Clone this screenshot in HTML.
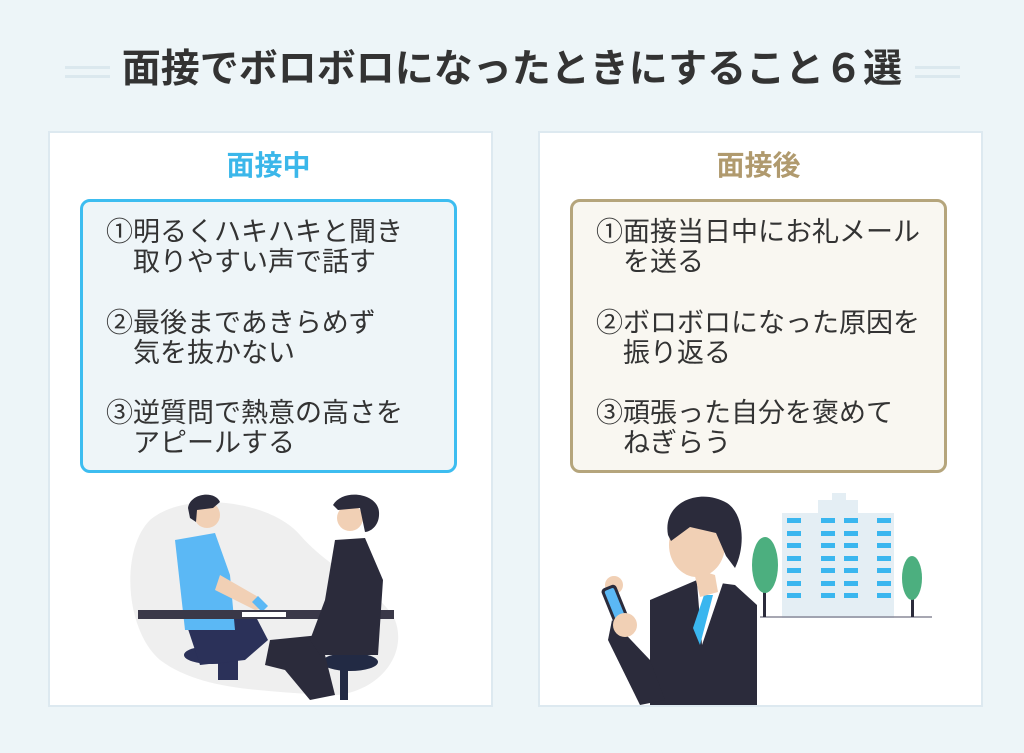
<!DOCTYPE html>
<html><head><meta charset="utf-8"><style>
body{margin:0;width:1024px;height:753px;background:#edf5f8;position:relative;overflow:hidden;font-family:"Liberation Sans","Noto Sans CJK JP",sans-serif;}
.a{position:absolute}
.title{left:0;width:1024px;top:45px;text-align:center;font-size:39px;font-weight:bold;color:#333;line-height:50px;}
.panel{background:#fff;border:2px solid #dde9f0;top:131px;width:441px;height:572px}
.h{font-size:28px;font-weight:bold;width:441px;text-align:center;top:149px;line-height:34px}
.box{border-radius:10px;top:199px;width:371px;height:268px;border:3px solid}
.t{font-size:27px;line-height:30px;color:#333;white-space:pre}
.dl{height:3px;background:#dbe8ee}
</style></head><body>
<div class="a dl" style="left:65px;top:66px;width:45px"></div>
<div class="a dl" style="left:65px;top:75px;width:45px"></div>
<div class="a dl" style="left:915px;top:66px;width:45px"></div>
<div class="a dl" style="left:915px;top:75px;width:45px"></div>
<div class="a title">面接でボロボロになったときにすること６選</div>

<div class="a panel" style="left:48px"></div>
<div class="a panel" style="left:538px"></div>
<div class="a h" style="left:48px;color:#3bb7ea">面接中</div>
<div class="a h" style="left:538px;color:#b09a6e">面接後</div>
<div class="a box" style="left:80px;border-color:#3dbdf0;background:#eef5f8"></div>
<div class="a box" style="left:570px;border-color:#b5a57c;background:#f9f7f1"></div>

<div class="a t" style="left:106px;top:217px">①明るくハキハキと聞き
　取りやすい声で話す</div>
<div class="a t" style="left:106px;top:308px">②最後まであきらめず
　気を抜かない</div>
<div class="a t" style="left:106px;top:398px">③逆質問で熱意の高さを
　アピールする</div>
<div class="a t" style="left:596px;top:217px">①面接当日中にお礼メール
　を送る</div>
<div class="a t" style="left:596px;top:308px">②ボロボロになった原因を
　振り返る</div>
<div class="a t" style="left:596px;top:398px">③頑張った自分を褒めて
　ねぎらう</div>

<svg class="a" style="left:0;top:0" width="1024" height="753">
<path d="M150 520 C185 490 270 500 300 535 C330 570 380 590 395 620 C410 660 370 700 320 695 C260 690 200 690 160 660 C125 630 120 550 150 520Z" fill="#efefef"/>
<rect x="218" y="640" width="20" height="40" fill="#2b3159"/>
<ellipse cx="212" cy="655" rx="28" ry="9" fill="#2b3159"/>
<rect x="340" y="660" width="8" height="40" fill="#222a44"/>
<ellipse cx="350" cy="662" rx="28" ry="9" fill="#222a44"/>
<path d="M185 620 L255 615 L268 640 L245 660 L200 665Z" fill="#2b3159"/>
<path d="M175 540 L215 533 L230 575 L235 630 L185 630Z" fill="#5bb8f5"/>
<path d="M220 575 L260 598 L265 608 L255 610 L215 590Z" fill="#f1d0b5"/>
<path d="M258 596 L268 606 L262 612 L252 602Z" fill="#5bb8f5"/>
<circle cx="207" cy="515" r="13" fill="#f1d0b5"/>
<path d="M188 508 C190 493 215 490 220 502 L213 508 L197 510 L196 522 L190 518Z" fill="#2b2b3b"/>
<rect x="138" y="610" width="256" height="9" fill="#3a3848"/>
<rect x="242" y="612" width="44" height="5" fill="#fff"/>
<path d="M270 640 L320 635 L335 695 L310 700 L285 670 L265 665Z" fill="#2b2b3b"/>
<path d="M335 540 L365 538 L383 580 L378 655 L320 655 L310 640 L325 600Z" fill="#2b2b3b"/>
<circle cx="350" cy="518" r="13" fill="#f1d0b5"/>
<path d="M333 505 C343 488 378 493 379 512 C380 526 370 532 365 532 L360 508 L338 510Z" fill="#2b2b3b"/>
<rect x="782" y="513" width="112" height="105" fill="#e4eef4"/>
<rect x="818" y="500" width="40" height="14" fill="#e4eef4"/>
<rect x="832" y="493" width="14" height="8" fill="#e4eef4"/>
<g fill="#3ab6ef">
<rect x="787" y="518" width="14" height="5"/><rect x="821" y="518" width="14" height="5"/><rect x="844" y="518" width="14" height="5"/><rect x="877" y="518" width="14" height="5"/>
<rect x="787" y="531" width="14" height="5"/><rect x="821" y="531" width="14" height="5"/><rect x="844" y="531" width="14" height="5"/><rect x="877" y="531" width="14" height="5"/>
<rect x="787" y="543" width="14" height="5"/><rect x="821" y="543" width="14" height="5"/><rect x="844" y="543" width="14" height="5"/><rect x="877" y="543" width="14" height="5"/>
<rect x="787" y="556" width="14" height="5"/><rect x="821" y="556" width="14" height="5"/><rect x="844" y="556" width="14" height="5"/><rect x="877" y="556" width="14" height="5"/>
<rect x="787" y="568" width="14" height="5"/><rect x="821" y="568" width="14" height="5"/><rect x="844" y="568" width="14" height="5"/><rect x="877" y="568" width="14" height="5"/>
<rect x="787" y="581" width="14" height="5"/><rect x="821" y="581" width="14" height="5"/><rect x="844" y="581" width="14" height="5"/><rect x="877" y="581" width="14" height="5"/>
<rect x="787" y="593" width="14" height="5"/><rect x="821" y="593" width="14" height="5"/><rect x="844" y="593" width="14" height="5"/><rect x="877" y="593" width="14" height="5"/>
</g>
<line x1="760" y1="617" x2="932" y2="617" stroke="#8a8a99" stroke-width="1.5"/>
<rect x="763" y="585" width="3" height="32" fill="#2b2b3b"/>
<ellipse cx="765" cy="565" rx="13" ry="28" fill="#4caf7f"/>
<rect x="911" y="590" width="3" height="27" fill="#2b2b3b"/>
<ellipse cx="912" cy="578" rx="10" ry="22" fill="#4caf7f"/>
<path d="M650 600 L697 580 L735 585 L757 605 L757 705 L650 705Z" fill="#2b2b3b"/>
<path d="M697 583 L724 580 L702 645Z" fill="#fff"/>
<path d="M704 595 L713 595 L700 645 L693 628Z" fill="#3ab6ef"/>
<path d="M612 620 L650 660 L665 700 L640 705 L608 640Z" fill="#2b2b3b"/>
<path d="M693 568 L715 575 L718 592 L700 597Z" fill="#f1d0b5"/>
<ellipse cx="697" cy="545" rx="28" ry="32" fill="#f1d0b5"/>
<path d="M668 535 C662 502 700 487 727 503 C745 515 745 548 735 568 L726 556 L716 533 L690 527 L671 541Z" fill="#2b2b3b"/>
<circle cx="614" cy="585" r="9" fill="#f1d0b5"/>
<rect x="608" y="585" width="16" height="44" rx="4" fill="#2b2b3b" transform="rotate(-22 616 607)"/>
<rect x="611" y="588" width="10" height="38" rx="2" fill="#5bb8f5" transform="rotate(-22 616 607)"/>
<circle cx="625" cy="625" r="12" fill="#f1d0b5"/>
</svg>
</body></html>
